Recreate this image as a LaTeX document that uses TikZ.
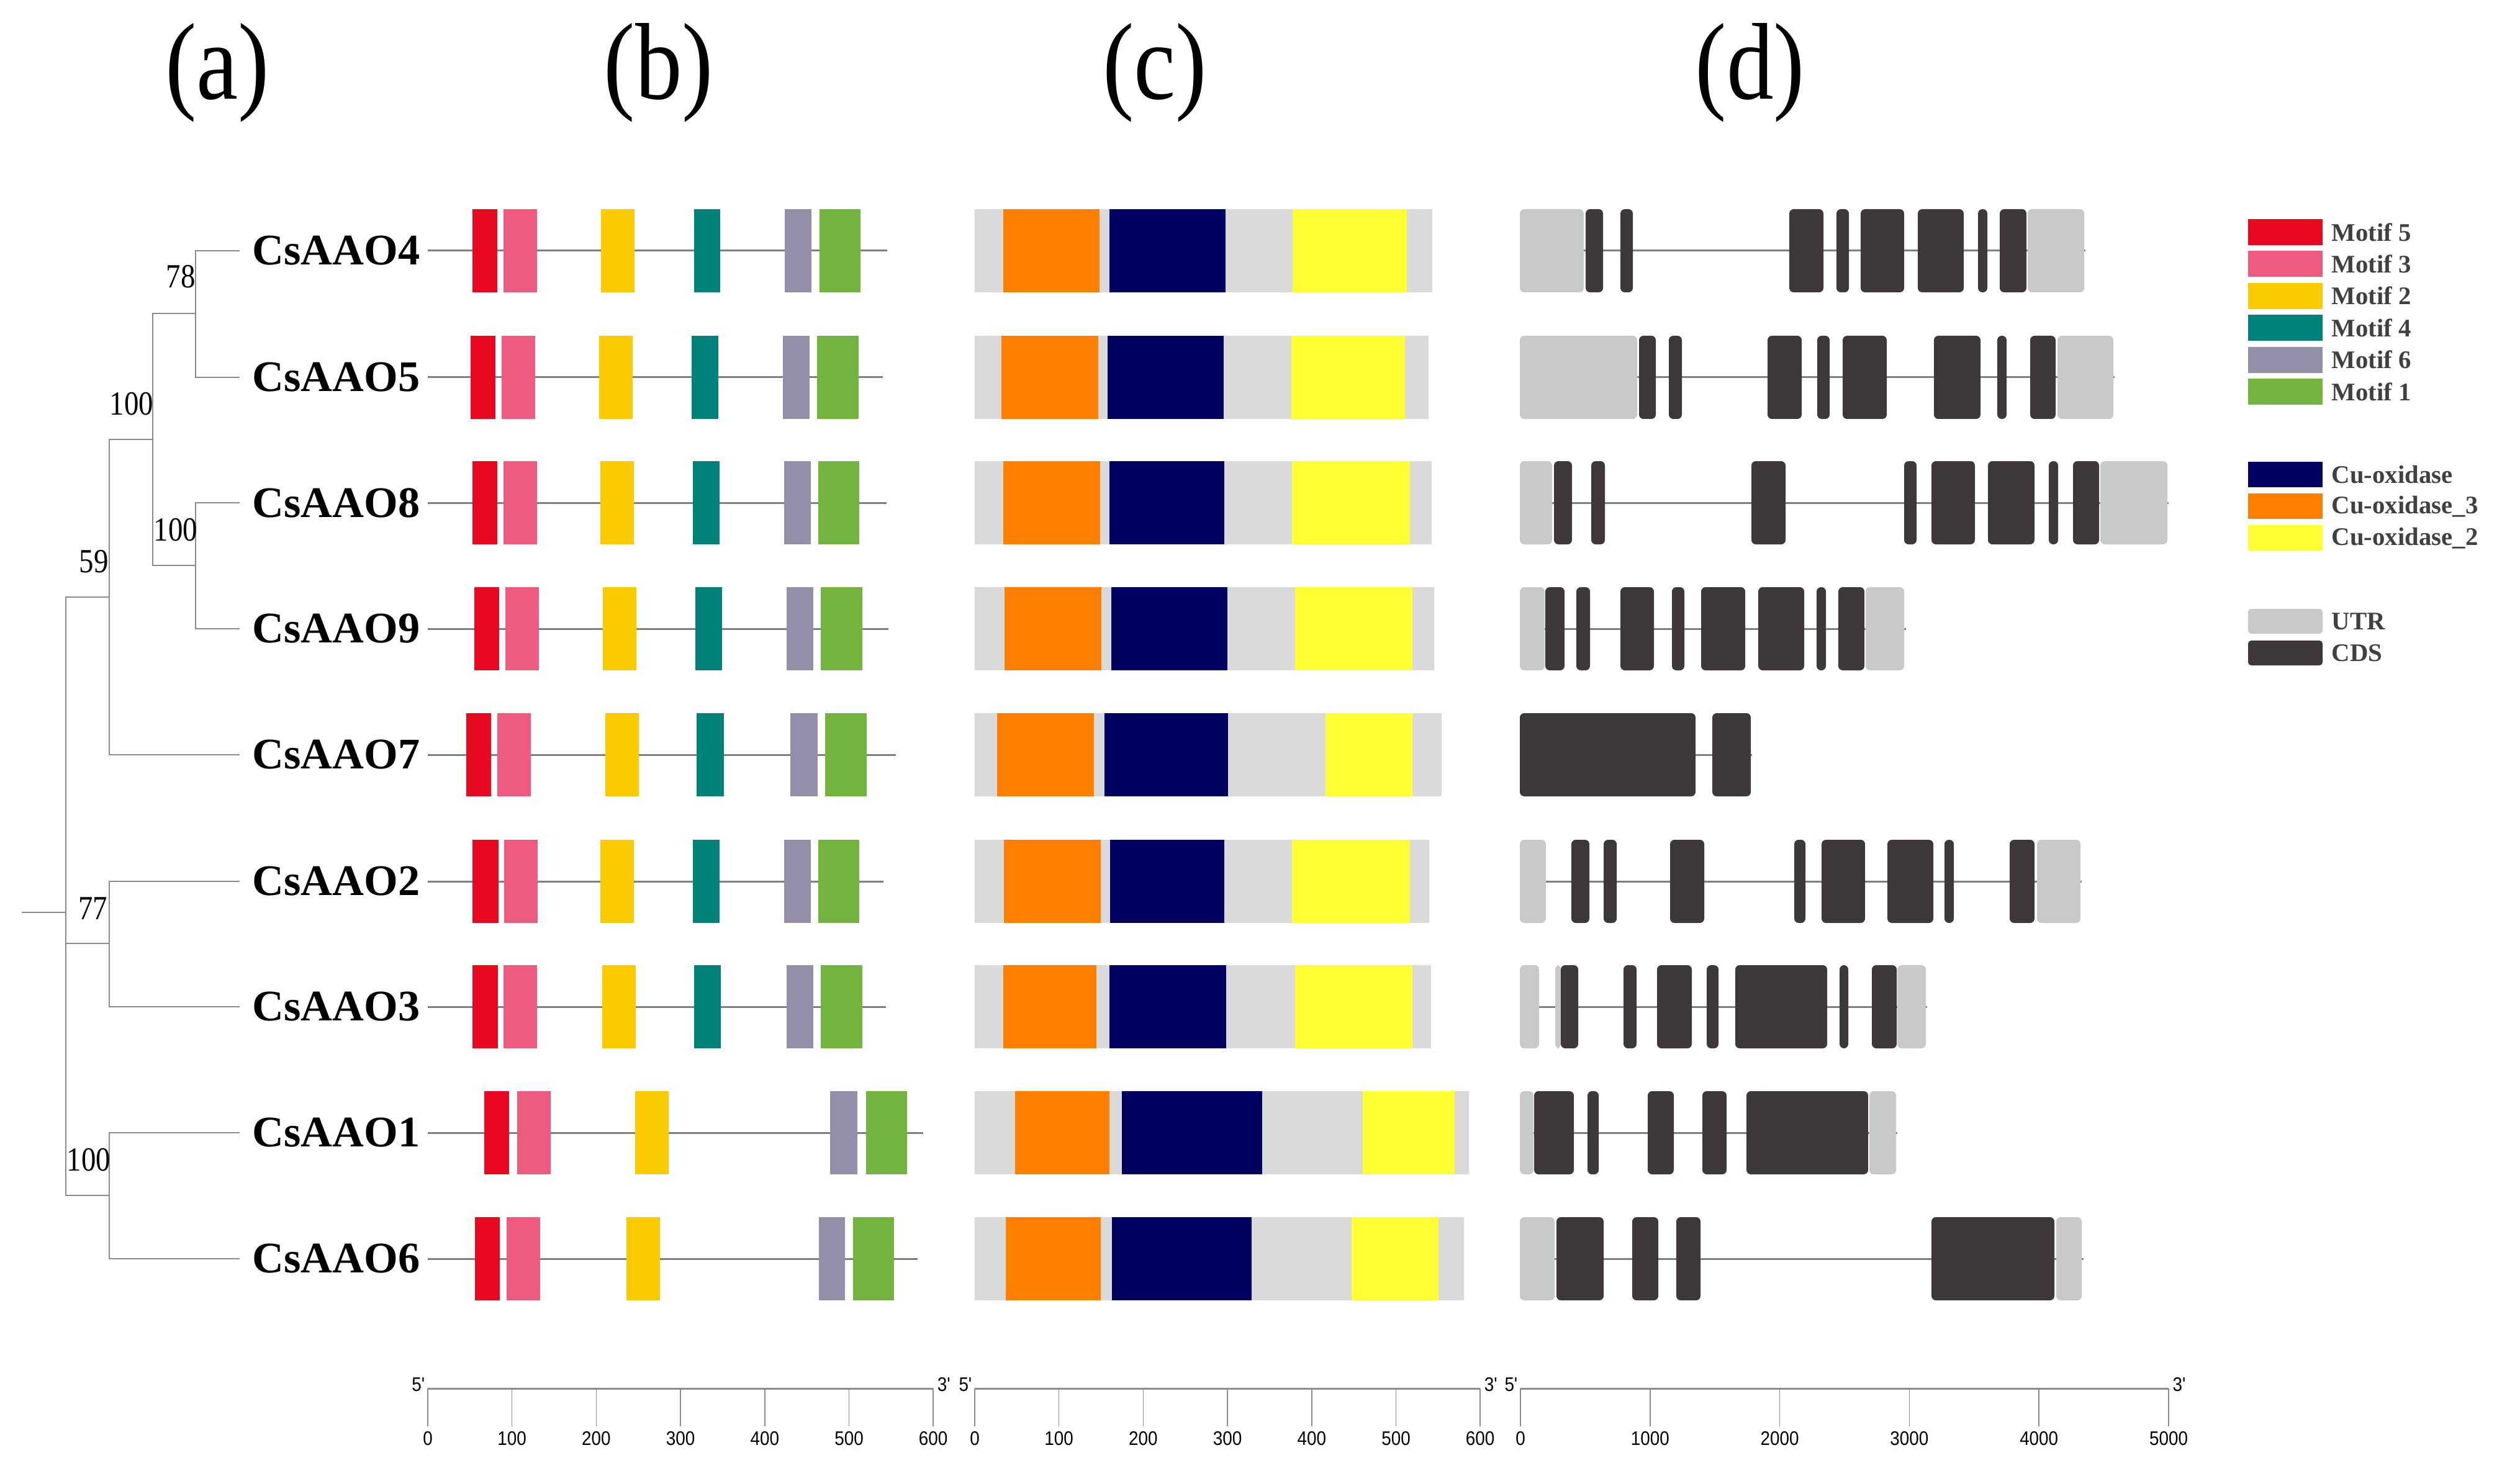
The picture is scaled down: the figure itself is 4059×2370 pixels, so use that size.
\documentclass[tikz,border=0pt]{standalone}
\usepackage{fontspec}
\setmainfont{Liberation Serif}
\newfontfamily\axisfont[FakeStretch=0.88]{Liberation Sans}
\newfontfamily\narrowserif[FakeStretch=0.86]{Liberation Serif}

\definecolor{mfive}{HTML}{E8081F}
\definecolor{mthree}{HTML}{EE5B7E}
\definecolor{mtwo}{HTML}{FBCB00}
\definecolor{mfour}{HTML}{00817A}
\definecolor{msix}{HTML}{948EA9}
\definecolor{mone}{HTML}{73B33F}
\definecolor{cuox}{HTML}{000060}
\definecolor{cuoxthree}{HTML}{FF7F00}
\definecolor{cuoxtwo}{HTML}{FFFF33}
\definecolor{domgray}{HTML}{DADADA}
\definecolor{utrgray}{HTML}{C8CAC9}
\definecolor{cdsgray}{HTML}{3E3839}
\definecolor{linegray}{HTML}{7F7F7F}
\definecolor{legtext}{HTML}{404040}

\tikzset{
	branch/.style={draw=linegray!90, line width=0.018cm},
	protline/.style={draw=linegray, line width=0.03cm},
	intron/.style={draw=linegray, line width=0.03cm},
	axisline/.style={draw=linegray!90, line width=0.03cm},
	axistick/.style={draw=linegray!90, line width=0.015cm},
	gene/.style={anchor=west, inner sep=0pt, font=\fontsize{20}{22}\selectfont\bfseries},
	boot/.style={inner sep=0pt, font=\narrowserif\fontsize{15.5}{17}\selectfont},
	paneltitle/.style={inner sep=0pt, font=\narrowserif\fontsize{50}{55}\selectfont},
	axislabel/.style={inner sep=0pt, font=\axisfont\fontsize{9}{10}\selectfont},
	legtext/.style={anchor=west, inner sep=0pt, text=legtext, font=\fontsize{11.6}{13}\selectfont\bfseries}
}

% motif row: y, end of line, list x1/x2/colour
\newcommand{\motifrow}[3]{
	\draw[protline] (689,#1) -- (#2,#1);
	\foreach \xa/\xb/\mc in {#3}
		\fill[\mc] (\xa,#1-67) rectangle (\xb,#1+67);
}

% domain row: y, end, Cu-oxidase_3, Cu-oxidase, Cu-oxidase_2
\newcommand{\domainrow}[8]{
	\fill[domgray] (1570,#1-67) rectangle (#2,#1+67);
	\fill[cuoxthree] (#3,#1-67) rectangle (#4,#1+67);
	\fill[cuox] (#5,#1-67) rectangle (#6,#1+67);
	\fill[cuoxtwo] (#7,#1-67) rectangle (#8,#1+67);
}

% gene row: y, end of line, list x1/x2/colour
\newcommand{\generow}[3]{
	\draw[intron] (2448,#1) -- (#2,#1);
	\foreach \xa/\xb/\gc in {#3}
		\fill[\gc, rounded corners=0.07cm] (\xa,#1-67) rectangle (\xb,#1+67);
}

% scale bar: x of 0, px per step, steps, units per step
\newcommand{\scalebar}[4]{
	\pgfmathsetmacro{\SBend}{#1+#3*#2}
	\draw[axisline] (#1,2237) -- (\SBend,2237);
	\foreach \k in {0,...,#3} {
		\pgfmathsetmacro{\SBx}{#1+\k*#2}
		\pgfmathtruncatemacro{\SBlab}{\k*#4}
		\draw[axistick] (\SBx,2237) -- (\SBx,2298);
		\node[axislabel] (tick\k) at (\SBx,2318) {\SBlab};
	}
	\node[axislabel, anchor=east] (five) at (#1-4,2231) {5'};
	\node[axislabel, anchor=west] (three) at (\SBend+6,2231) {3'};
}

\begin{document}
\begin{tikzpicture}[x=0.01cm, y=-0.01cm]
\useasboundingbox (0,0) rectangle (4059,2370);

\node[paneltitle] (ta) at (350,117) {(a)};
\node[paneltitle] (tb) at (1061,117) {(b)};
\node[paneltitle] (tc) at (1860,117) {(c)};
\node[paneltitle] (td) at (2819,117) {(d)};

% tree
\coordinate (root) at (35,1470);
\coordinate (nroot) at (106,1470);
\coordinate (n59) at (176,962);
\coordinate (n77) at (176,1520);
\coordinate (nc) at (176,1926);
\coordinate (nb) at (246,708);
\coordinate (n78) at (315,505);
\coordinate (na) at (315,911);
\coordinate (t4) at (386,404);
\coordinate (t5) at (386,608);
\coordinate (t8) at (386,810);
\coordinate (t9) at (386,1013);
\coordinate (t7) at (386,1216);
\coordinate (t2) at (386,1420);
\coordinate (t3) at (386,1622);
\coordinate (t1) at (386,1825);
\coordinate (t6) at (386,2028);

\draw[branch] (root) -- (nroot);
\draw[branch] (nroot) |- (n59);
\draw[branch] (nroot) |- (n77);
\draw[branch] (nroot) |- (nc);
\draw[branch] (n59) |- (nb);
\draw[branch] (n59) |- (t7);
\draw[branch] (nb) |- (n78);
\draw[branch] (nb) |- (na);
\draw[branch] (n78) |- (t4);
\draw[branch] (n78) |- (t5);
\draw[branch] (na) |- (t8);
\draw[branch] (na) |- (t9);
\draw[branch] (n77) |- (t2);
\draw[branch] (n77) |- (t3);
\draw[branch] (nc) |- (t1);
\draw[branch] (nc) |- (t6);

\node[boot] (b78) at (291,446) {78};
\node[boot] (bb) at (212,651) {100};
\node[boot] (ba) at (283,854) {100};
\node[boot] (b59) at (151,905) {59};
\node[boot] (b77) at (150,1464) {77};
\node[boot] (bc) at (143,1869) {100};

\foreach \g/\y in {4/404,5/608,8/810,9/1013,7/1216,2/1420,3/1622,1/1825,6/2028}
	\node[gene] (g\g) at (406,\y) {CsAAO\g};

% motifs
\motifrow{404}{1429}{761/801/mfive,811/865/mthree,968/1022/mtwo,1118/1160/mfour,1264/1307/msix,1320/1386/mone}
\motifrow{608}{1422}{758/798/mfive,808/862/mthree,965/1019/mtwo,1114/1157/mfour,1261/1304/msix,1316/1383/mone}
\motifrow{810}{1428}{761/801/mfive,811/865/mthree,967/1021/mtwo,1116/1159/mfour,1263/1306/msix,1318/1384/mone}
\motifrow{1013}{1431}{764/804/mfive,814/868/mthree,971/1025/mtwo,1120/1163/mfour,1267/1310/msix,1322/1389/mone}
\motifrow{1216}{1443}{751/791/mfive,801/855/mthree,975/1029/mtwo,1122/1166/mfour,1273/1317/msix,1329/1396/mone}
\motifrow{1420}{1423}{761/803/mfive,812/866/mthree,967/1021/mtwo,1116/1159/mfour,1263/1306/msix,1318/1384/mone}
\motifrow{1622}{1427}{761/802/mfive,811/865/mthree,970/1024/mtwo,1118/1161/mfour,1267/1310/msix,1322/1389/mone}
\motifrow{1825}{1487}{780/820/mfive,833/887/mthree,1023/1077/mtwo,1337/1381/msix,1395/1461/mone}
\motifrow{2028}{1478}{765/805/mfive,816/870/mthree,1009/1063/mtwo,1319/1361/msix,1374/1440/mone}

% domains
\domainrow{404}{2307}{1616}{1771}{1787}{1974}{2082}{2266}
\domainrow{608}{2301}{1613}{1769}{1784}{1971}{2080}{2263}
\domainrow{810}{2306}{1616}{1772}{1787}{1972}{2081}{2271}
\domainrow{1013}{2310}{1618}{1774}{1790}{1977}{2086}{2275}
\domainrow{1216}{2322}{1606}{1762}{1779}{1978}{2135}{2275}
\domainrow{1420}{2302}{1617}{1773}{1788}{1972}{2081}{2271}
\domainrow{1622}{2305}{1616}{1766}{1787}{1975}{2086}{2275}
\domainrow{1825}{2366}{1635}{1787}{1807}{2033}{2195}{2343}
\domainrow{2028}{2358}{1620}{1773}{1791}{2016}{2177}{2317}

% gene structure
\generow{404}{3359}{2448/2551/utrgray,2554/2582/cdsgray,2610/2630/cdsgray,2882/2937/cdsgray,2958/2978/cdsgray,2997/3067/cdsgray,3089/3163/cdsgray,3186/3201/cdsgray,3221/3264/cdsgray,3266/3357/utrgray}
\generow{608}{3406}{2448/2637/utrgray,2640/2667/cdsgray,2688/2709/cdsgray,2847/2902/cdsgray,2927/2947/cdsgray,2968/3039/cdsgray,3115/3190/cdsgray,3217/3232/cdsgray,3270/3311/cdsgray,3314/3404/utrgray}
\generow{810}{3493}{2448/2500/utrgray,2503/2532/cdsgray,2563/2585/cdsgray,2821/2876/cdsgray,3067/3087/cdsgray,3111/3181/cdsgray,3202/3277/cdsgray,3300/3315/cdsgray,3339/3381/cdsgray,3383/3491/utrgray}
\generow{1013}{3070}{2448/2488/utrgray,2489/2520/cdsgray,2539/2561/cdsgray,2610/2664/cdsgray,2693/2713/cdsgray,2740/2811/cdsgray,2832/2906/cdsgray,2926/2941/cdsgray,2961/3003/cdsgray,3005/3067/utrgray}
\generow{1216}{2822}{2448/2731/cdsgray,2758/2820/cdsgray}
\generow{1420}{3353}{2448/2490/utrgray,2531/2560/cdsgray,2583/2604/cdsgray,2690/2745/cdsgray,2890/2908/cdsgray,2934/3004/cdsgray,3040/3114/cdsgray,3132/3147/cdsgray,3237/3277/cdsgray,3281/3351/utrgray}
\generow{1622}{3104}{2448/2479/utrgray,2505/2514/utrgray,2514/2542/cdsgray,2615/2636/cdsgray,2669/2725/cdsgray,2749/2768/cdsgray,2795/2943/cdsgray,2963/2977/cdsgray,3015/3055/cdsgray,3056/3102/utrgray}
\generow{1825}{3056}{2448/2470/utrgray,2471/2535/cdsgray,2557/2575/cdsgray,2654/2696/cdsgray,2742/2781/cdsgray,2813/3009/cdsgray,3011/3054/utrgray}
\generow{2028}{3356}{2448/2504/utrgray,2507/2583/cdsgray,2629/2671/cdsgray,2700/2739/cdsgray,3111/3309/cdsgray,3312/3353/utrgray}

% legend
\foreach \lab/\col [count=\i from 0] in {Motif 5/mfive,Motif 3/mthree,Motif 2/mtwo,Motif 4/mfour,Motif 6/msix,Motif 1/mone} {
	\fill[\col] (3621,353+51.4*\i) rectangle (3741,395+51.4*\i);
	\node[legtext] (lm\i) at (3755,374+51.4*\i) {\lab};
}
\foreach \lab/\col [count=\i from 0] in {Cu-oxidase/cuox,Cu-oxidase\_3/cuoxthree,Cu-oxidase\_2/cuoxtwo} {
	\fill[\col] (3621,744+51*\i) rectangle (3741,785+51*\i);
	\node[legtext] (ld\i) at (3755,765+51*\i) {\lab};
}
\foreach \lab/\col [count=\i from 0] in {UTR/utrgray,CDS/cdsgray} {
	\fill[\col, rounded corners=0.05cm] (3621,981+51*\i) rectangle (3741,1021+51*\i);
	\node[legtext] (lg\i) at (3755,1001+51*\i) {\lab};
}

% scale bars
\scalebar{689}{135.7}{6}{100}
\scalebar{1570}{135.7}{6}{100}
\scalebar{2449}{208.8}{5}{1000}
\end{tikzpicture}
\end{document}
